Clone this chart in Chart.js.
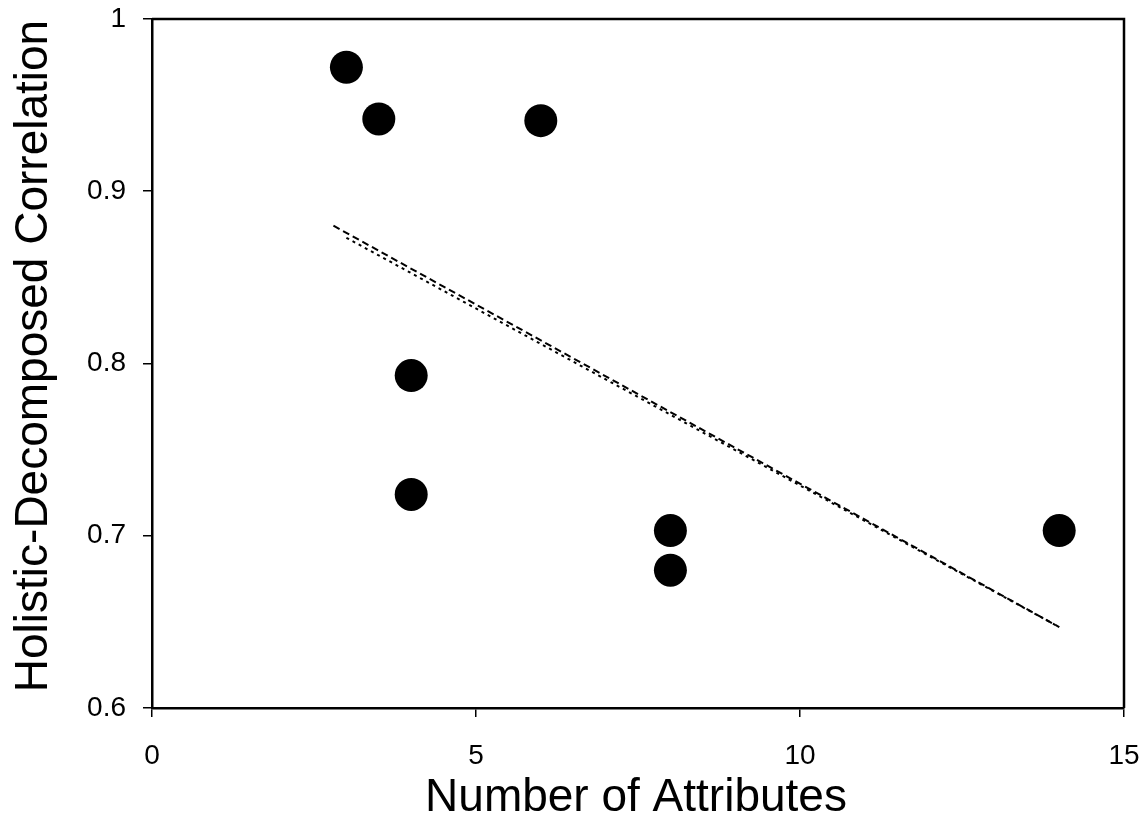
<!DOCTYPE html>
<html><head><meta charset="utf-8">
<script src="https://cdn.jsdelivr.net/npm/chart.js@4"></script>
<style>html,body{margin:0;padding:0;background:#fff}#wrap{width:1145px;height:822px}</style>
</head><body><div id="wrap"><canvas id="c" width="1145" height="822"></canvas></div>
<script>
// Data
const attrX = [3, 3.5, 6, 4, 4, 8, 8, 14];
const corrY = [0.972, 0.942, 0.941, 0.793, 0.724, 0.703, 0.680, 0.703];
const trendAX = [2.8, 14];
const trendAY = [0.880, 0.647];
const trendBX = [3.0, 14];
const trendBY = [0.873, 0.647];
const xTicks = [0, 5, 10, 15];
const xTickLabels = ['0', '5', '10', '15'];
const yTicks = [0.6, 0.7, 0.8, 0.9, 1];
const yTickLabels = ['0.6', '0.7', '0.8', '0.9', '1'];
const xTitle = 'Number of Attributes';
const yTitle = 'Holistic-Decomposed Correlation';

const FONT = '"Liberation Sans", Arial, sans-serif';
const zip = (xs, ys) => xs.map((x, i) => ({x: x, y: ys[i]}));

const framePlugin = {
  id: 'frame',
  afterDraw(chart) {
    const {ctx, chartArea: a} = chart;
    ctx.save();
    ctx.strokeStyle = '#000';
    ctx.lineWidth = 2.5;
    ctx.beginPath();
    ctx.moveTo(a.left, a.top);
    ctx.lineTo(a.right, a.top);
    ctx.lineTo(a.right, a.bottom);
    ctx.stroke();
    ctx.fillStyle = '#000';
    ctx.font = '46px ' + FONT;
    ctx.textAlign = 'center';
    ctx.textBaseline = 'alphabetic';
    ctx.fillText(xTitle, 636, 811);
    ctx.save();
    ctx.translate(47, 356);
    ctx.rotate(-Math.PI / 2);
    ctx.fillText(yTitle, 0, 0);
    ctx.restore();
    ctx.restore();
  }
};

const noPad = s => { s.paddingTop = 0; s.paddingBottom = 0; s.paddingLeft = 0; s.paddingRight = 0; };

new Chart(document.getElementById('c'), {
  type: 'scatter',
  data: {
    datasets: [
      {
        data: zip(attrX, corrY),
        backgroundColor: '#000', borderColor: '#000',
        pointRadius: 16.5, pointHoverRadius: 16.5, pointBorderWidth: 0
      },
      {
        data: zip(trendAX, trendAY), showLine: true,
        borderColor: '#000', borderWidth: 2, borderDash: [7, 4],
        pointRadius: 0, fill: false
      },
      {
        data: zip(trendBX, trendBY), showLine: true,
        borderColor: '#000', borderWidth: 2, borderDash: [3, 4],
        pointRadius: 0, fill: false
      }
    ]
  },
  options: {
    responsive: false,
    animation: false,
    devicePixelRatio: 1,
    layout: {padding: {top: 19, right: 21, left: 0, bottom: 0}},
    plugins: {legend: {display: false}, tooltip: {enabled: false}},
    scales: {
      x: {
        type: 'linear', min: 0, max: 15,
        afterBuildTicks: s => { s.ticks = xTicks.map(v => ({value: v})); },
        afterFit: s => { s.height = 114; noPad(s); },
        ticks: {
          color: '#000', font: {family: FONT, size: 28}, padding: 22,
          maxRotation: 0, autoSkip: false,
          callback: (v) => xTickLabels[xTicks.indexOf(v)]
        },
        grid: {drawOnChartArea: false, drawTicks: true, tickLength: 9, color: '#000', lineWidth: 1.5},
        border: {display: true, color: '#000', width: 2.5}
      },
      y: {
        type: 'linear', min: 0.6, max: 1,
        afterBuildTicks: s => { s.ticks = yTicks.map(v => ({value: v})); },
        afterFit: s => { s.width = 152; noPad(s); },
        ticks: {
          color: '#000', font: {family: FONT, size: 28}, padding: 17,
          autoSkip: false,
          callback: (v) => yTickLabels[yTicks.indexOf(v)]
        },
        grid: {drawOnChartArea: false, drawTicks: true, tickLength: 9, color: '#000', lineWidth: 1.5},
        border: {display: true, color: '#000', width: 2.5}
      }
    }
  },
  plugins: [framePlugin]
});
</script></body></html>
